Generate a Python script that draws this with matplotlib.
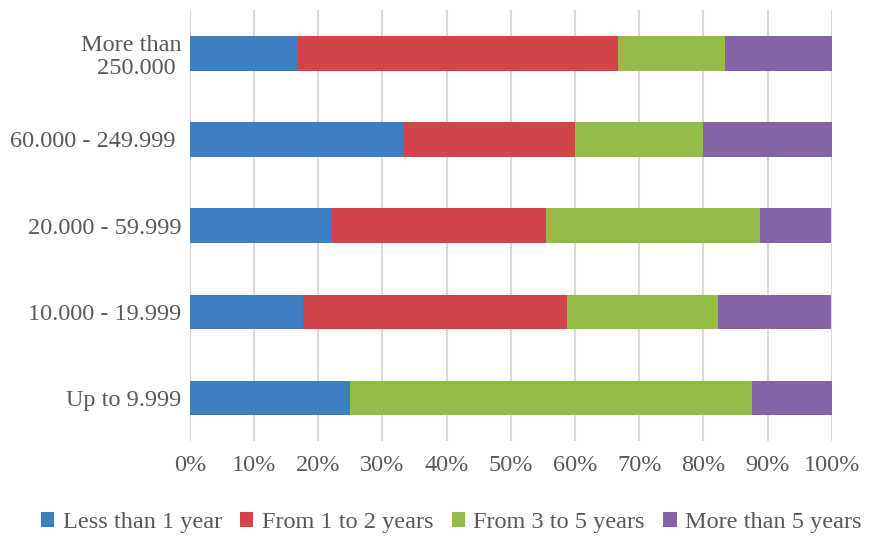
import matplotlib.pyplot as plt
import numpy as np

plt.rcParams['font.family'] = ['Liberation Serif', 'DejaVu Serif']

categories = ["Up to 9.999", "10.000 - 19.999", "20.000 - 59.999",
              "60.000 - 249.999 ", "More than\n250.000 "]
series = ["Less than 1 year", "From 1 to 2 years", "From 3 to 5 years", "More than 5 years"]
less_1 = [25.0, 17.6, 22.2, 33.3, 16.7]
from_1_2 = [0.0, 41.2, 33.3, 26.7, 50.0]
from_3_5 = [62.5, 23.5, 33.3, 20.0, 16.7]
more_5 = [12.5, 17.6, 11.1, 20.0, 16.6]
colors = ["#3d80c2", "#d14548", "#94bc47", "#8364a6"]

fig = plt.figure(figsize=(8.71, 5.36), dpi=100)
ax = fig.add_axes([0.218, 0.177, 0.737, 0.804])

y = np.arange(len(categories))
left = np.zeros(len(categories))
for name, vals, c in zip(series, [less_1, from_1_2, from_3_5, more_5], colors):
    ax.barh(y, vals, left=left, height=0.4, color=c, label=name, zorder=3)
    left += np.array(vals)

ax.set_xlim(0, 100)
ax.set_ylim(-0.5, 4.5)
ax.set_xticks(np.arange(0, 101, 10))
ax.set_xticklabels([f"{v}%" for v in range(0, 101, 10)])
ax.set_yticks(y)
ax.set_yticklabels(categories, linespacing=1.15)
ax.tick_params(axis='both', length=0, labelsize=17.5, colors="#595959")
ax.tick_params(axis='x', pad=10)
ax.tick_params(axis='y', pad=6)
ax.grid(axis='x', color="#d9d9d9", linewidth=1.5, zorder=0)
for s in ax.spines.values():
    s.set_visible(False)

leg = fig.legend(loc='lower center', bbox_to_anchor=(0.518, -0.035), ncol=4, frameon=False,
                 fontsize=17.5, handlelength=0.55, handleheight=0.55, handletextpad=0.35,
                 columnspacing=0.75, labelcolor="#595959")

fig.savefig("out.png", dpi=100)
